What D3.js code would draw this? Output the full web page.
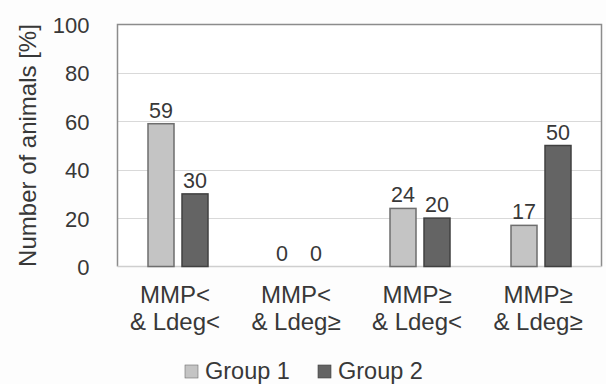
<!DOCTYPE html>
<html>
<head>
<meta charset="utf-8">
<script src="https://cdn.jsdelivr.net/npm/d3@7"></script>
<style>
  html, body { margin: 0; padding: 0; background: #fdfdfd; }
  svg { display: block; font-family: "Liberation Sans", Arial, sans-serif; }
</style>
</head>
<body>
<svg id="chart" width="606" height="384"></svg>
<script>
// Share of animals per MMP / Ldeg combination, two groups
const categories = [["MMP<", "& Ldeg<"], ["MMP<", "& Ldeg≥"], ["MMP≥", "& Ldeg<"], ["MMP≥", "& Ldeg≥"]];
const seriesNames = ["Group 1", "Group 2"];
const group1 = [59, 0, 24, 17];
const group2 = [30, 0, 20, 50];
const yTicks = [0, 20, 40, 60, 80, 100];
const yTitle = "Number of animals [%]";

const fills = ["#c4c4c4", "#646464"];
const strokes = ["#6e6e6e", "#404040"];
const textColor = "#383838";

const svg = d3.select("#chart");
const margin = { left: 117.5, right: 4.5, top: 24.5, bottom: 117.5 };
const W = 606, H = 384;
const x0 = margin.left, x1 = W - margin.right;
const y0 = H - margin.bottom, y1 = margin.top;

const keys = categories.map((c, i) => i);
const x = d3.scaleBand().domain(keys).range([x0, x1]).padding(0);
const y = d3.scaleLinear().domain([0, 100]).range([y0, y1]);

// plot background
svg.append("rect").attr("x", x0).attr("y", y1).attr("width", x1 - x0).attr("height", y0 - y1).attr("fill", "#ffffff");

// gridlines
svg.append("g").selectAll("line").data(yTicks.filter(d => d > 0 && d < 100)).join("line")
  .attr("x1", x0).attr("x2", x1)
  .attr("y1", d => Math.round(y(d)) + 0.5).attr("y2", d => Math.round(y(d)) + 0.5)
  .attr("stroke", "#d9d9d9").attr("stroke-width", 1.2);

// frame: left, top, right in mid grey; baseline lighter
svg.append("path")
  .attr("d", `M${x0},${y0}V${y1}H${x1}V${y0}`)
  .attr("fill", "none").attr("stroke", "#8c8c8c").attr("stroke-width", 1.5);
svg.append("line").attr("x1", x0).attr("x2", x1).attr("y1", y0).attr("y2", y0)
  .attr("stroke", "#cfcfcf").attr("stroke-width", 1.5);

// bars
const barW = 26, gap = 8;
const series = [group1, group2];
series.forEach((vals, s) => {
  const g = svg.append("g");
  const bx = i => x(i) + x.bandwidth() / 2 + (s === 0 ? -gap / 2 - barW : gap / 2);
  g.selectAll("rect").data(vals.map((v, i) => ({ v, i }))).join("rect")
    .filter(d => d.v > 0)
    .attr("x", d => bx(d.i))
    .attr("y", d => y(d.v))
    .attr("width", barW)
    .attr("height", d => y(0) - y(d.v))
    .attr("fill", fills[s]).attr("stroke", strokes[s]).attr("stroke-width", 1.5);
  g.selectAll("text").data(vals.map((v, i) => ({ v, i }))).join("text")
    .attr("x", d => bx(d.i) + barW / 2)
    .attr("y", d => y(d.v) - 6)
    .attr("text-anchor", "middle")
    .attr("font-size", 21.5)
    .attr("fill", textColor)
    .text(d => d.v);
});

// y axis labels
const yAxis = d3.axisLeft(y).tickValues(yTicks).tickSize(0).tickPadding(28);
const ya = svg.append("g").attr("transform", `translate(${x0},0)`).call(yAxis);
ya.select(".domain").remove();
ya.selectAll("text").attr("font-size", 22).attr("fill", textColor)
  .attr("font-family", "'Liberation Sans', Arial, sans-serif").attr("dy", "0.36em");

// y title
svg.append("text")
  .attr("transform", `translate(36,145.5) rotate(-90)`)
  .attr("text-anchor", "middle")
  .attr("font-size", 24)
  .attr("fill", textColor)
  .text(yTitle);

// category labels (two lines each, sitting a little left of the band centre)
const xl = svg.append("g");
categories.forEach((lines, i) => {
  const cx = x(i) + x.bandwidth() / 2 - 3;
  const t = xl.append("text")
    .attr("text-anchor", "middle")
    .attr("font-size", 24)
    .attr("fill", textColor);
  lines.forEach((ln, k) => {
    t.append("tspan").attr("x", cx).attr("y", 303 + k * 27).text(ln);
  });
});

// legend
const legend = svg.append("g");
const legX = [185, 318];
seriesNames.forEach((name, s) => {
  legend.append("rect").attr("x", legX[s]).attr("y", 365).attr("width", 13).attr("height", 13)
    .attr("fill", fills[s]).attr("stroke", strokes[s]).attr("stroke-width", 0.6);
  legend.append("text").attr("x", legX[s] + 20).attr("y", 379)
    .attr("font-size", 23.5).attr("fill", textColor).text(name);
});
</script>
</body>
</html>
